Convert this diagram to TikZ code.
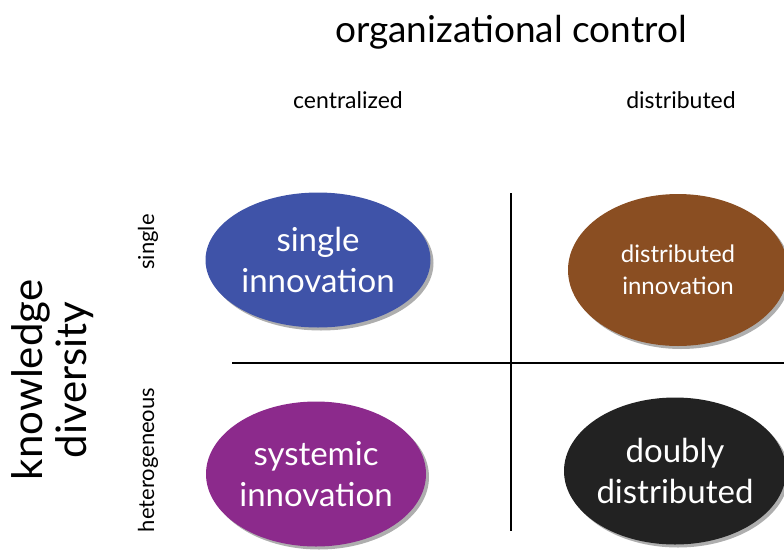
\documentclass[tikz,border=0pt]{standalone}
\usepackage{fontspec}
\setmainfont{Lato}
\usetikzlibrary{shapes.geometric,shadows}
\definecolor{cblue}{HTML}{3F53A8}
\definecolor{cbrown}{HTML}{8A4E22}
\definecolor{cpurple}{HTML}{8C2A8C}
\definecolor{cblack}{HTML}{222222}
\tikzset{
  blob/.style={ellipse, draw=none, text=white, align=center, inner sep=0pt,
    font=\fontsize{33}{41}\selectfont,
    drop shadow={shadow xshift=3pt, shadow yshift=-3pt, opacity=0.45, fill=black!70}},
  smallblob/.style={blob, font=\fontsize{24}{32}\selectfont},
  axis/.style={line width=2.8pt, black},
  colhead/.style={font=\fontsize{23}{27}\selectfont},
  rowhead/.style={font=\fontsize{22}{26}\selectfont, rotate=90},
}
\begin{document}
\begin{tikzpicture}[x=1pt,y=-1pt]
\useasboundingbox (0,0) rectangle (784,552);
\node (title) at (511,32) {\fontsize{37}{44}\selectfont organizational control};
\node[colhead] (cen) at (348,100) {centralized};
\node[colhead] (dis) at (681,100) {distributed};
\node[rowhead] (sin) at (148,242) {single};
\node[rowhead] (het) at (148,460) {heterogeneous};
\node[rotate=90, align=center, font=\fontsize{42}{44}\selectfont] (kd) at (53,380) {knowledge\\diversity};
\coordinate (vt) at (511,193);
\coordinate (vb) at (511,531);
\coordinate (hl) at (232,363);
\coordinate (hr) at (784,363);
\draw[axis] (vt) -- (vb);
\draw[axis] (hl) -- (hr);
\node[blob, fill=cblue, minimum width=225pt, minimum height=135pt] (e1) at (318,260) {single\\innovation};
\node[smallblob, fill=cbrown, minimum width=220pt, minimum height=152pt] (e2) at (678,270) {distributed\\innovation};
\node[blob, fill=cpurple, minimum width=220pt, minimum height=145pt] (e3) at (316,474) {systemic\\innovation};
\node[blob, fill=cblack, minimum width=220pt, minimum height=147pt] (e4) at (675,471) {doubly\\distributed};
\end{tikzpicture}
\end{document}
